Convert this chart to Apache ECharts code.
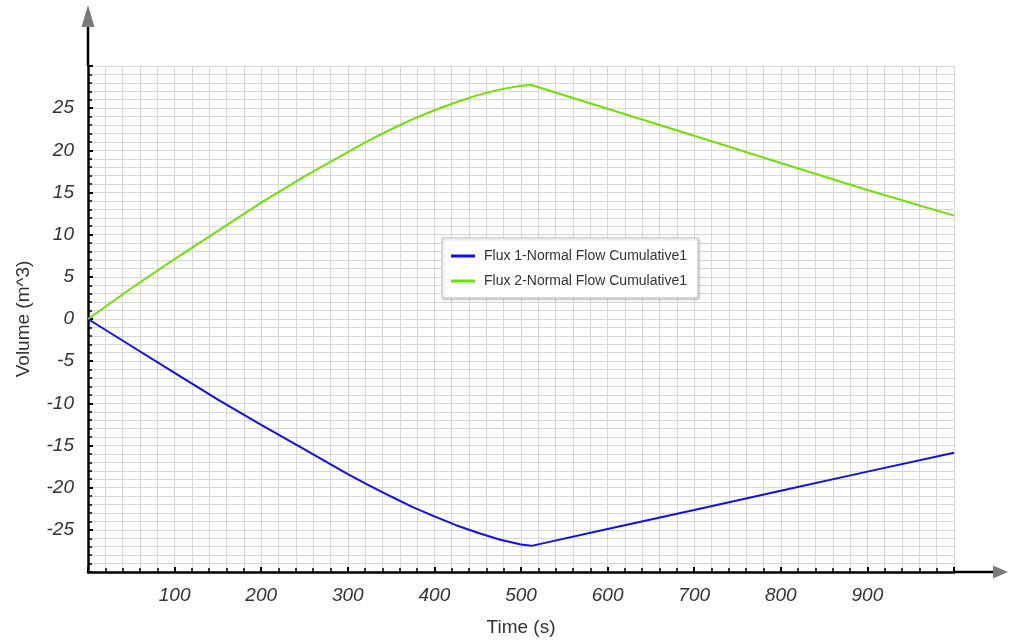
<!DOCTYPE html>
<html>
<head>
<meta charset="utf-8">
<script src="https://cdn.jsdelivr.net/npm/echarts@6/dist/echarts.min.js"></script>
<style>
html,body{margin:0;padding:0;background:#fff;}
#chart{width:1010px;height:643px;}
</style>
</head>
<body>
<div id="chart"></div>
<script>
var times = [0, 50, 100, 150, 200, 250, 300, 325, 350, 375, 400, 425, 450, 475, 500, 512, 600, 700, 800, 900, 1000];
var flux1 = [0, -3.2, -6.4, -9.55, -12.55, -15.45, -18.4, -19.75, -21.05, -22.3, -23.4, -24.45, -25.35, -26.15, -26.75, -26.9, -24.9, -22.64, -20.37, -18.1, -15.85];
var flux2 = [0, 3.65, 7.1, 10.45, 13.8, 16.9, 19.8, 21.2, 22.5, 23.7, 24.75, 25.7, 26.55, 27.2, 27.65, 27.75, 24.93, 21.72, 18.5, 15.3, 12.26];
var seriesNames = ['Flux 1-Normal Flow Cumulative1', 'Flux 2-Normal Flow Cumulative1'];
var xTitle = 'Time (s)';
var yTitle = 'Volume (m^3)';

function pairs(xs, ys) { return xs.map(function (x, i) { return [x, ys[i]]; }); }

var FONT = '"Liberation Sans", Arial, sans-serif';
var chart = echarts.init(document.getElementById('chart'), null, {renderer: 'canvas'});
var gridCol = '#d6d6d6';
var option = {
  animation: false,
  backgroundColor: '#fff',
  grid: {left: 88, right: 56, top: 66, bottom: 71, containLabel: false, outerBoundsMode: 'none'},
  legend: {
    orient: 'vertical', left: 442, top: 238,
    padding: [11, 11, 10, 9], itemGap: 11,
    backgroundColor: '#fff', borderColor: '#c4c4c4', borderWidth: 1,
    shadowBlur: 3, shadowColor: 'rgba(0,0,0,0.25)', shadowOffsetX: 1, shadowOffsetY: 1,
    icon: 'rect', itemWidth: 24, itemHeight: 3,
    textStyle: {fontFamily: FONT, fontSize: 14, color: '#333', padding: [0, 0, 0, 4]},
    data: seriesNames
  },
  xAxis: {
    type: 'value', min: 0, max: 1000, interval: 100,
    name: xTitle, nameLocation: 'middle', nameGap: 46,
    nameTextStyle: {fontFamily: FONT, fontSize: 19, color: '#333'},
    axisLine: {show: true, onZero: false, lineStyle: {color: '#000', width: 2.5}},
    axisTick: {show: true, inside: true, length: 5, lineStyle: {color: '#000', width: 2}},
    minorTick: {show: true, splitNumber: 5, length: 4, lineStyle: {color: '#000', width: 1.5}},
    axisLabel: {showMinLabel: false, showMaxLabel: false, margin: 14, fontFamily: FONT, fontSize: 19, fontStyle: 'italic', color: '#333'},
    splitLine: {show: true, lineStyle: {color: gridCol, width: 1}},
    minorSplitLine: {show: true, lineStyle: {color: gridCol, width: 1}}
  },
  yAxis: {
    type: 'value', min: -30, max: 30, interval: 5,
    name: yTitle, nameLocation: 'middle', nameGap: 55, nameRotate: 90,
    nameTextStyle: {fontFamily: FONT, fontSize: 19, color: '#333'},
    axisLine: {show: true, onZero: false, lineStyle: {color: '#000', width: 2.5}},
    axisTick: {show: true, inside: true, length: 5, lineStyle: {color: '#000', width: 2}},
    minorTick: {show: true, splitNumber: 5, length: 4, lineStyle: {color: '#000', width: 1.5}},
    axisLabel: {showMinLabel: false, showMaxLabel: false, margin: 14, fontFamily: FONT, fontSize: 19, fontStyle: 'italic', color: '#333'},
    splitLine: {show: true, lineStyle: {color: gridCol, width: 1}},
    minorSplitLine: {show: true, lineStyle: {color: gridCol, width: 1}}
  },
  series: [
    {name: seriesNames[0], type: 'line', data: pairs(times, flux1), showSymbol: false, symbol: 'none',
     lineStyle: {color: '#1010ee', width: 2}, itemStyle: {color: '#1010ee'}, z: 3},
    {name: seriesNames[1], type: 'line', data: pairs(times, flux2), showSymbol: false, symbol: 'none',
     lineStyle: {color: '#70e000', width: 2}, itemStyle: {color: '#70e000'}, z: 3}
  ]
};
chart.setOption(option);

// axis extensions with arrow heads
var o = chart.convertToPixel({gridIndex: 0}, [0, -30]);
var tl = chart.convertToPixel({gridIndex: 0}, [0, 30]);
var br = chart.convertToPixel({gridIndex: 0}, [1000, -30]);
var ox = Math.round(o[0]), oy = Math.round(o[1]);
chart.setOption({
  graphic: [
    {type: 'line', shape: {x1: ox, y1: tl[1], x2: ox, y2: 26}, style: {stroke: '#000', lineWidth: 2.5}, z: 10},
    {type: 'polygon', shape: {points: [[ox, 5], [ox - 6.5, 27], [ox + 6.5, 27]]}, style: {fill: '#7a7a7a'}, z: 10},
    {type: 'line', shape: {x1: br[0], y1: oy, x2: 994, y2: oy}, style: {stroke: '#000', lineWidth: 2.5}, z: 10},
    {type: 'polygon', shape: {points: [[1008, oy], [993, oy - 6.5], [993, oy + 6.5]]}, style: {fill: '#7a7a7a'}, z: 10}
  ]
});
</script>
</body>
</html>
